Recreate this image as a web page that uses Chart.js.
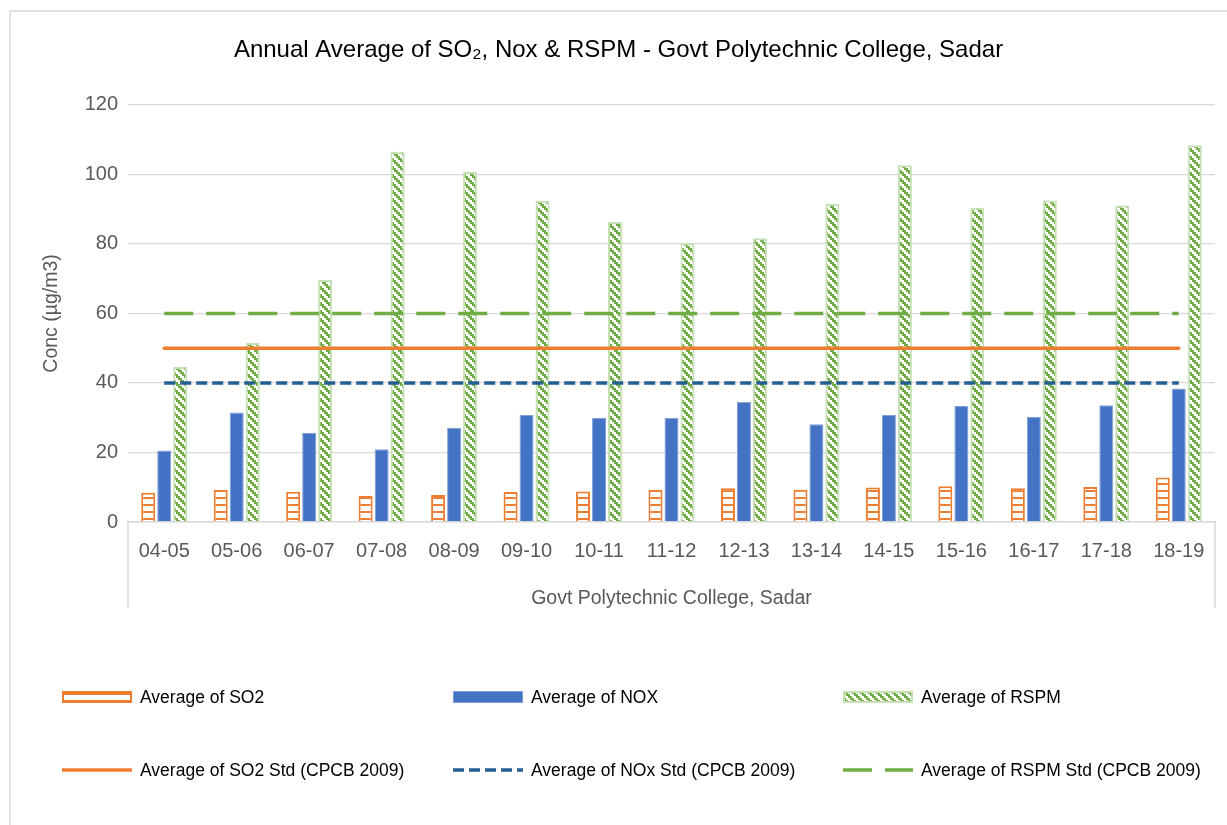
<!DOCTYPE html>
<html>
<head>
<meta charset="utf-8">
<script src="https://cdn.jsdelivr.net/npm/chart.js@4.4.0/dist/chart.umd.min.js"></script>
<style>
html,body{margin:0;padding:0;background:#ffffff;}
#wrap{width:1227px;height:825px;position:relative;}
</style>
</head>
<body>
<div id="wrap"><canvas id="c" width="1227" height="825"></canvas></div>
<script>
// ---- Data ----
const categories = ['04-05','05-06','06-07','07-08','08-09','09-10','10-11','11-12','12-13','13-14','14-15','15-16','16-17','17-18','18-19'];
const so2Avg  = [8.4, 9.2, 8.7, 7.5, 7.8, 8.6, 8.8, 9.2, 9.7, 9.3, 9.9, 10.3, 9.7, 10.1, 12.8];
const noxAvg  = [20.6, 31.5, 25.6, 20.9, 27.1, 30.8, 30.0, 30.0, 34.6, 28.1, 30.8, 33.4, 30.3, 33.6, 38.4];
const rspmAvg = [44.6, 51.5, 69.6, 106.5, 100.7, 92.4, 86.3, 80.2, 81.6, 91.5, 102.6, 90.4, 92.5, 91.0, 108.4];
const so2Std  = [50, 50, 50, 50, 50, 50, 50, 50, 50, 50, 50, 50, 50, 50, 50];
const noxStd  = [40, 40, 40, 40, 40, 40, 40, 40, 40, 40, 40, 40, 40, 40, 40];
const rspmStd = [60, 60, 60, 60, 60, 60, 60, 60, 60, 60, 60, 60, 60, 60, 60];
const yTickValues = [0, 20, 40, 60, 80, 100, 120];
const seriesLabels = ['Average of SO2', 'Average of NOX', 'Average of RSPM',
  'Average of SO2 Std (CPCB 2009)', 'Average of NOx Std (CPCB 2009)', 'Average of RSPM Std (CPCB 2009)'];
const chartTitle = 'Annual Average of SO\u2082, Nox & RSPM - Govt Polytechnic College, Sadar';
const xTitle = 'Govt Polytechnic College, Sadar';
const yTitle = 'Conc (\u00B5g/m3)';

// ---- Styles ----
const FONT = "'Liberation Sans', Arial, sans-serif";
const ORANGE = '#ED7D31', BLUE = '#4472C4', GREEN = '#70AD47', NAVY = '#255E91', GRID = '#D9D9D9', TXT = '#595959';

function makeHPattern() {
  const c = document.createElement('canvas'); c.width = 8; c.height = 7;
  const g = c.getContext('2d');
  g.fillStyle = '#ffffff'; g.fillRect(0, 0, 8, 7);
  g.fillStyle = ORANGE; g.fillRect(0, 0, 8, 2);
  return g.createPattern(c, 'repeat');
}
function makeDiagPattern() {
  const c = document.createElement('canvas'); c.width = 8; c.height = 8;
  const g = c.getContext('2d');
  g.fillStyle = '#ffffff'; g.fillRect(0, 0, 8, 8);
  g.fillStyle = GREEN;
  for (let y = 0; y < 8; y++) for (let x = 0; x < 8; x++) {
    if ((((x >> 1) - (y >> 1)) & 3) < 2) g.fillRect(x, y, 1, 1);
  }
  return g.createPattern(c, 'repeat');
}
const so2Fill = makeHPattern();
const rspmFill = makeDiagPattern();

const frame = {
  id: 'frame',
  beforeDraw(chart) {
    const ctx = chart.ctx;
    ctx.save();
    ctx.fillStyle = '#ffffff'; ctx.fillRect(0, 0, chart.width, chart.height);
    ctx.strokeStyle = GRID; ctx.lineWidth = 1.5;
    ctx.beginPath();
    ctx.moveTo(10, chart.height); ctx.lineTo(10, 11); ctx.lineTo(chart.width, 11);
    ctx.stroke();
    ctx.restore();
  },
  afterDraw(chart) {
    const ctx = chart.ctx, a = chart.chartArea;
    ctx.save();
    ctx.strokeStyle = GRID; ctx.lineWidth = 1.5;
    ctx.beginPath();
    ctx.moveTo(a.left, a.bottom); ctx.lineTo(a.left, a.bottom + 86);
    ctx.moveTo(a.right, a.bottom); ctx.lineTo(a.right, a.bottom + 86);
    ctx.stroke();
    ctx.restore();
  }
};

const customLegend = {
  id: 'customLegend',
  afterDraw(chart) {
    const ctx = chart.ctx;
    const cols = [62, 453, 843], rows = [697, 770];
    const sw = 70, sh = 12;
    ctx.save();
    ctx.font = "17.5px " + FONT;
    ctx.textBaseline = 'middle';
    ctx.textAlign = 'left';
    chart.data.datasets.forEach((ds, i) => {
      const x = cols[i % 3], y = rows[Math.floor(i / 3)];
      if (ds.type === 'bar') {
        ctx.fillStyle = ds.backgroundColor;
        ctx.fillRect(x, y - sh / 2, sw, sh);
        ctx.strokeStyle = ds.borderColor; ctx.lineWidth = ds.borderWidth;
        ctx.strokeRect(x + ds.borderWidth / 2, y - sh / 2 + ds.borderWidth / 2, sw - ds.borderWidth, sh - ds.borderWidth);
      } else {
        ctx.strokeStyle = ds.borderColor; ctx.lineWidth = ds.borderWidth;
        ctx.setLineDash(ds.borderDash || []);
        ctx.beginPath(); ctx.moveTo(x, y); ctx.lineTo(x + sw, y); ctx.stroke();
        ctx.setLineDash([]);
      }
      ctx.fillStyle = '#000000';
      ctx.fillText(ds.label, x + sw + 8, y + 1);
    });
    ctx.restore();
  }
};

const barCommon = { type: 'bar', order: 1, categoryPercentage: 0.662, barPercentage: 0.875 };
const lineCommon = { type: 'line', order: 0, pointRadius: 0, pointHoverRadius: 0, fill: false, borderWidth: 3.5, tension: 0 };

new Chart(document.getElementById('c'), {
  data: {
    labels: categories,
    datasets: [
      Object.assign({}, barCommon, { label: seriesLabels[0], data: so2Avg, backgroundColor: so2Fill, borderColor: ORANGE, borderWidth: 2 }),
      Object.assign({}, barCommon, { label: seriesLabels[1], data: noxAvg, backgroundColor: BLUE, borderColor: '#7F9FD8', borderWidth: 1 }),
      Object.assign({}, barCommon, { label: seriesLabels[2], data: rspmAvg, backgroundColor: rspmFill, borderColor: '#C5E0B4', borderWidth: 2 }),
      Object.assign({}, lineCommon, { label: seriesLabels[3], data: so2Std, borderColor: ORANGE, borderCapStyle: 'round' }),
      Object.assign({}, lineCommon, { label: seriesLabels[4], data: noxStd, borderColor: NAVY, borderDash: [11, 5] }),
      Object.assign({}, lineCommon, { label: seriesLabels[5], data: rspmStd, borderColor: GREEN, borderDash: [29, 13] })
    ]
  },
  options: {
    responsive: false,
    animation: false,
    layout: { padding: { left: 22, right: 12, top: 0, bottom: 215 } },
    plugins: {
      legend: { display: false },
      tooltip: { enabled: false },
      title: {
        display: true,
        text: chartTitle,
        color: '#000000',
        font: { family: FONT, size: 24, weight: 'normal' },
        padding: { top: 36, bottom: 40 }
      }
    },
    scales: {
      x: {
        type: 'category',
        offset: true,
        grid: { display: false, drawTicks: false, tickLength: 0 },
        border: { display: true, color: GRID, width: 1.5 },
        ticks: { color: TXT, font: { family: FONT, size: 20 }, padding: 17, maxRotation: 0, autoSkip: false },
        title: { display: true, text: xTitle, color: TXT, font: { family: FONT, size: 19.5 }, padding: { top: 0, bottom: 0 } },
        afterFit(s) { s.height = 88; }
      },
      y: {
        min: 0, max: 120,
        afterBuildTicks(s) { s.ticks = yTickValues.map(v => ({ value: v })); },
        grid: { color: GRID, lineWidth: 1.3, drawTicks: false, tickLength: 0 },
        border: { display: false },
        ticks: { color: TXT, font: { family: FONT, size: 20 }, padding: 10 },
        title: { display: true, text: yTitle, color: TXT, font: { family: FONT, size: 19.5 }, padding: { top: 18, bottom: 0 } },
        afterFit(s) { s.width = 106; }
      }
    }
  },
  plugins: [frame, customLegend]
});
</script>
</body>
</html>
